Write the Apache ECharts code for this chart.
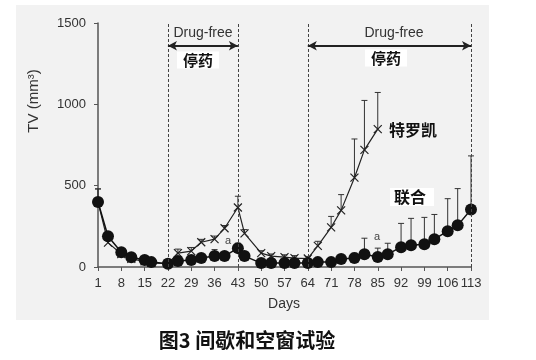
<!DOCTYPE html>
<html><head><meta charset="utf-8">
<script src="https://cdn.jsdelivr.net/npm/echarts@6/dist/echarts.min.js"></script>
<style>html,body{margin:0;padding:0;background:#fff}#c{width:536px;height:360px}</style>
</head><body><div id="c"></div>
<script>
// ---- data ----
const xTicks = [1,8,15,22,29,36,43,50,57,64,71,78,85,92,99,106,113];
const yTicks = [0,500,1000,1500];

const telDays   = [1,4,8,11,15,17,22,25,29,32,36,39,43,45,50,53,57,60,64,67,71,74,78,81,85];
const telValues = [400,150,80,50,35,25,20,85,98,152,171,238,366,207,85,67,61,55,52,130,244,348,549,720,848];
const telErr    = [80,0,0,0,0,0,0,25,22,18,19,17,69,23,15,13,14,15,13,28,67,97,238,304,225];

const comboDays   = [1,4,8,11,15,17,22,25,29,32,36,39,43,45,50,53,57,60,64,67,71,74,78,81,85,88,92,95,99,102,106,109,113];
const comboValues = [400,189,91,60,43,30,20,37,43,55,67,67,116,67,24,24,24,24,24,30,30,49,55,79,61,79,122,134,140,171,220,256,354];
const comboErr    = [80,0,0,0,0,0,0,0,10,15,40,20,30,10,0,0,0,0,0,0,0,0,30,98,55,67,146,165,165,152,200,226,329];

const drugFreeWindows = [[22,43],[64,113]];
const dashedDays = [22,43,64,113];

// ---- chart ----
const chart = echarts.init(document.getElementById('c'), null, {renderer:'canvas'});
const FONT = '"Liberation Sans", Arial, sans-serif';
const CJK = '"Noto Sans CJK SC", sans-serif';

function errSeries(days, vals, errs, z){
  return {
    type:'custom', z:z, silent:true,
    data: days.map((d,i)=>[d, vals[i], vals[i]+errs[i]]),
    encode:{x:0, y:[1,2]},
    renderItem(params, api){
      const x = api.value(0), v = api.value(1), t = api.value(2);
      if (t <= v) return;
      const lo = api.coord([x, v]), hi = api.coord([x, t]);
      return {type:'group', children:[
        {type:'line', shape:{x1:lo[0],y1:lo[1],x2:hi[0],y2:hi[1]}, style:{stroke:'#333', lineWidth:1}},
        {type:'line', shape:{x1:hi[0]-3,y1:hi[1],x2:hi[0]+3,y2:hi[1]}, style:{stroke:'#333', lineWidth:1}}
      ]};
    }
  };
}

function txt(x, y, text, opts, extra){
  return Object.assign({type:'text', x:x, y:y, silent:true, z:50,
    style:Object.assign({text:text, fill:'#111', align:'center', verticalAlign:'middle', font:'14px '+FONT}, opts||{})}, extra||{});
}

const option = {
  backgroundColor:'#fff',
  animation:false,
  grid:{left:98, right:65, top:23, bottom:93},
  xAxis:{
    type:'value', min:1, max:113,
    axisLine:{show:true, lineStyle:{color:'#555', width:1.5}},
    axisTick:{show:true, customValues:xTicks, length:4, lineStyle:{color:'#555'}},
    axisLabel:{customValues:xTicks, color:'#333', fontSize:13, fontFamily:FONT, margin:10, formatter:v=>String(v)},
    splitLine:{show:false}
  },
  yAxis:{
    type:'value', min:0, max:1500, interval:500,
    axisLine:{show:true, lineStyle:{color:'#555', width:1.5}},
    axisTick:{show:true, length:4, lineStyle:{color:'#555'}},
    axisLabel:{customValues:yTicks, color:'#333', fontSize:13, fontFamily:FONT, margin:12, formatter:v=>String(v)},
    splitLine:{show:false}
  },
  series:[
    errSeries(telDays, telValues, telErr, 1),
    errSeries(comboDays, comboValues, comboErr, 1),
    {
      type:'line', z:3, name:'特罗凯',
      data: telDays.map((d,i)=>[d, telValues[i]]),
      symbol:'path://M0,0L10,10M0,10L10,0', symbolSize:8,
      itemStyle:{color:'none', borderColor:'#222', borderWidth:1.2},
      lineStyle:{color:'#222', width:1.2},
      markLine:{
        silent:true, symbol:'none', label:{show:false},
        lineStyle:{color:'#444', width:1, type:[3,2]},
        data: dashedDays.map(d=>({xAxis:d}))
      }
    },
    {
      type:'line', z:4, name:'联合',
      data: comboDays.map((d,i)=>[d, comboValues[i]]),
      symbol:'circle', symbolSize:12,
      itemStyle:{color:'#111'},
      lineStyle:{color:'#111', width:1.5},
      markLine:{
        silent:true, symbol:['arrow','arrow'], symbolSize:[7,9], label:{show:false},
        lineStyle:{color:'#222', width:2, type:'solid'},
        data: drugFreeWindows.map(w=>[{coord:[w[0],1360]},{coord:[w[1],1360]}])
      }
    }
  ],
  graphic:[
    {type:'rect', shape:{x:16, y:5, width:473, height:315}, style:{fill:'#f2f2f2'}, z:-100, silent:true},
    txt(34, 101, 'TV (mm³)', {fill:'#333', font:'15px '+FONT}, {rotation:Math.PI/2}),
    txt(284, 304, 'Days', {fill:'#333', font:'14px '+FONT}),
    txt(203, 33, 'Drug-free', {fill:'#333'}),
    txt(394, 33, 'Drug-free', {fill:'#333'}),
    txt(198, 60, '停药', {font:'bold 15px '+CJK, backgroundColor:'#fff', padding:[1,6,1,6]}),
    txt(386, 58, '停药', {font:'bold 15px '+CJK, backgroundColor:'#fff', padding:[1,6,1,6]}),
    txt(413, 130, '特罗凯', {font:'bold 16px '+CJK}),
    txt(412, 197, '联合', {font:'bold 16px '+CJK, backgroundColor:'#fff', padding:[1,8,1,4]}),
    txt(228, 241, 'a', {fill:'#444', font:'11px '+FONT}),
    txt(377, 237, 'a', {fill:'#444', font:'11px '+FONT}),
    txt(247, 340, '图3 间歇和空窗试验', {font:'bold 20px '+CJK})
  ]
};
chart.setOption(option);
</script>
</body></html>
